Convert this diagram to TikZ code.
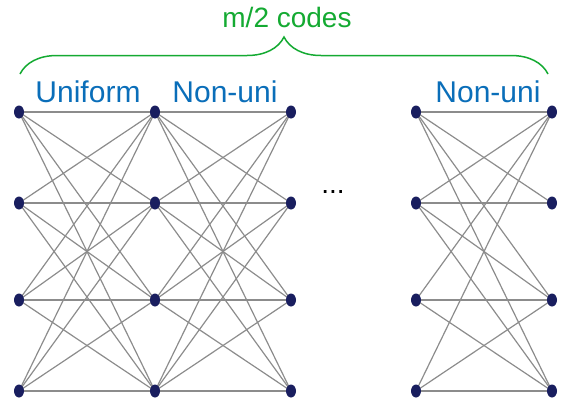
\documentclass[tikz,border=0pt]{standalone}
\usepackage{fontspec}
\setmainfont{Liberation Sans}
\usetikzlibrary{shapes.geometric,decorations.pathreplacing,backgrounds}

\definecolor{dotblue}{RGB}{25,30,95}
\definecolor{linkgray}{RGB}{140,140,140}
\definecolor{titleblue}{RGB}{10,110,185}
\definecolor{bracegreen}{RGB}{20,170,50}

\tikzset{
  unit/.style={ellipse,fill=dotblue,inner sep=0pt,minimum width=10pt,minimum height=13pt},
  link/.style={draw=linkgray,line width=1.2pt},
  layername/.style={text=titleblue,font=\fontsize{30}{30}\selectfont,anchor=base}
}

\begin{document}
\begin{tikzpicture}[x=1pt,y=-1pt]
\useasboundingbox (0,0) rectangle (571,405);

% units, one column per layer
\foreach \c/\x in {1/19,2/155,3/291,4/416,5/552}
  \foreach \r/\y in {1/112,2/203,3/300,4/391}
    \node [unit] (n\c\r) at (\x,\y) {};

% links
\begin{scope}[on background layer]
\foreach \i in {1,...,4}
  \foreach \j in {1,...,4} {
    \draw [link] (n1\i.center) -- (n2\j.center);
    \draw [link] (n2\i.center) -- (n3\j.center);
  }
\foreach \i/\j in {1/1,1/2,1/3,1/4,2/1,2/2,2/3,2/4,3/1,3/3,3/4,4/1,4/3,4/4}
  \draw [link] (n4\i.center) -- (n5\j.center);
\end{scope}

\node [font=\fontsize{28}{28}\selectfont,anchor=base] (gap) at (333,193) {...};

\node [layername] (uni) at (88,102) {Uniform};
\node [layername] (non1) at (225,102) {Non-uni};
\node [layername] (non2) at (488,102) {Non-uni};

\coordinate (braceL) at (20,74);
\coordinate (braceR) at (548,74);
\draw [bracegreen,line width=1.5pt,decorate,decoration={brace,amplitude=37pt}] (braceL) -- (braceR);
\node [text=bracegreen,font=\fontsize{28}{28}\selectfont,anchor=base] (codes) at (287,27) {m/2 codes};

\end{tikzpicture}
\end{document}
